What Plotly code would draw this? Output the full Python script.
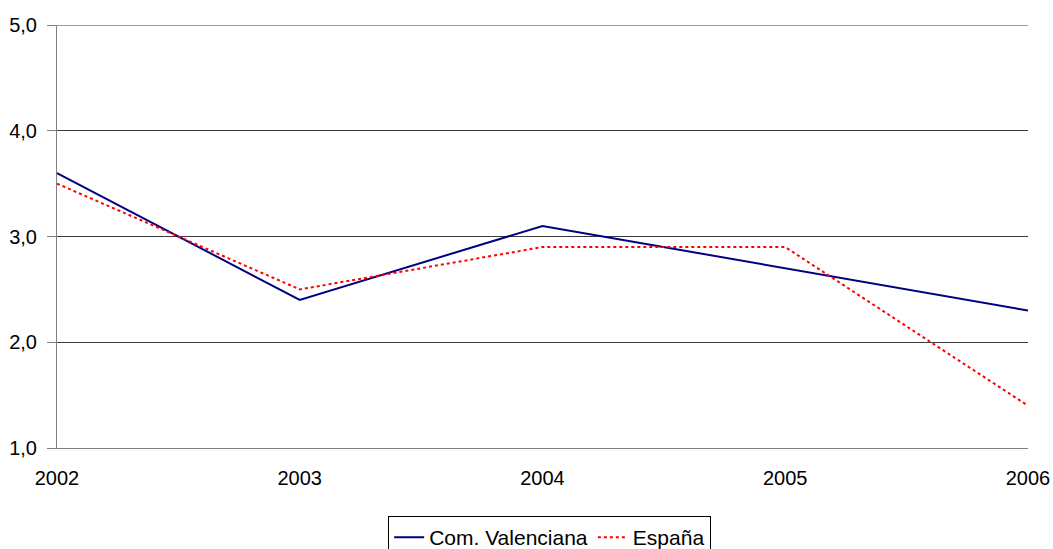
import plotly.graph_objects as go

years = [2002, 2003, 2004, 2005, 2006]
year_labels = ["2002", "2003", "2004", "2005", "2006"]
valenciana = [3.6, 2.4, 3.1, 2.7, 2.3]
espana = [3.5, 2.5, 2.9, 2.9, 1.4]
y_ticks = [1.0, 2.0, 3.0, 4.0, 5.0]

fig = go.Figure()
fig.add_trace(go.Scatter(x=years, y=valenciana, mode="lines", name="Com. Valenciana",
                         line=dict(color="#000080", width=2)))
fig.add_trace(go.Scatter(x=years, y=espana, mode="lines", name="España",
                         line=dict(color="#FF0000", width=2, dash="dot")))

grid_color = "#3a3a3a"

# top gridline at the upper limit of the value axis
fig.add_shape(type="line", xref="x domain", yref="y", x0=0, x1=1,
              y0=y_ticks[-1], y1=y_ticks[-1], line=dict(color=grid_color, width=1), layer="below")

fig.update_layout(
    width=1053, height=549,
    margin=dict(l=57, r=25, t=25, b=101, autoexpand=False),
    paper_bgcolor="white", plot_bgcolor="white",
    separators=",.",
    font=dict(family="Liberation Sans, Arial, sans-serif", size=20, color="black"),
    showlegend=True,
    legend=dict(orientation="h", x=0.522, xanchor="center", xref="container",
                y=1 - 516 / 549, yanchor="top", yref="container",
                bordercolor="black", borderwidth=1, font=dict(size=21),
                tracegroupgap=0),
    xaxis=dict(range=[2002, 2006], tickmode="array", tickvals=years, ticktext=year_labels,
               showgrid=False, showline=True, linecolor="#808080", linewidth=1,
               ticks="outside", ticklen=12, tickcolor="rgba(0,0,0,0)", zeroline=False,
               automargin=False),
    yaxis=dict(range=[1, 5], tickmode="array", tickvals=y_ticks, tickformat=".1f",
               showgrid=True, gridcolor=grid_color, gridwidth=1,
               showline=True, linecolor="#808080", linewidth=1,
               ticks="outside", ticklen=9, tickcolor="#808080", zeroline=False,
               ticklabelstandoff=6, automargin=False),
)

fig.write_html("out.html", config={"displayModeBar": False},
               post_script="document.body.style.margin='0';document.body.style.overflow='hidden';")
